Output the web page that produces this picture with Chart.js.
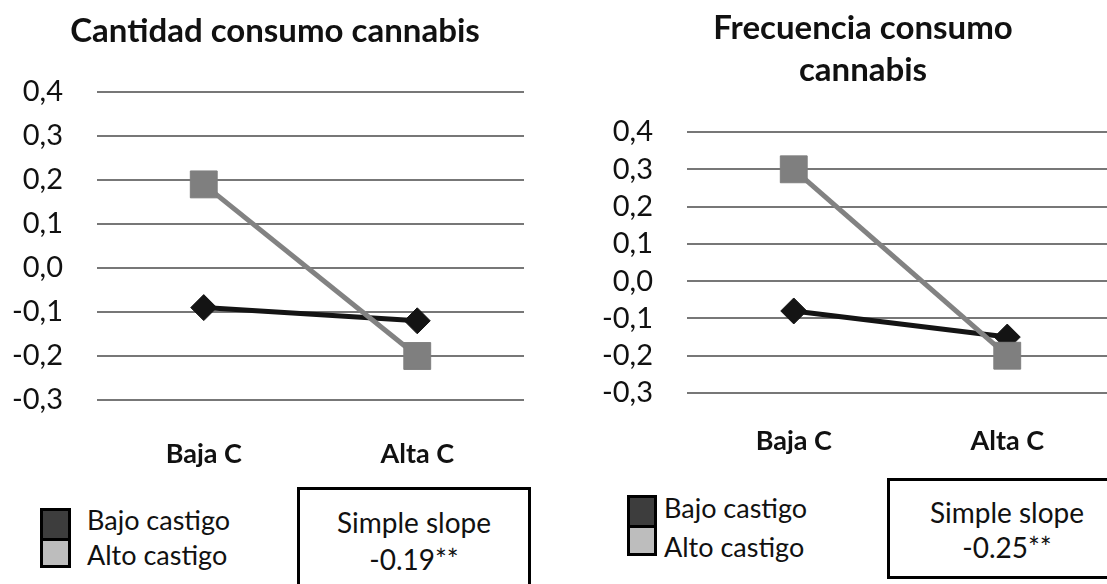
<!DOCTYPE html>
<html>
<head>
<meta charset="utf-8">
<script src="https://cdn.jsdelivr.net/npm/chart.js@4.4.1/dist/chart.umd.min.js"></script>
<style>
  html, body { margin: 0; padding: 0; background: #fff; }
  body { width: 1107px; height: 584px; overflow: hidden; position: relative; font-family: Lato, sans-serif; color: #111; }
  canvas { position: absolute; top: 0; }
  #c-left { left: 0; }
  #c-right { left: 560px; }
  .legend { position: absolute; }
  .swatch { position: absolute; left: 0; top: 0; border: 3px solid #000; box-sizing: border-box; }
  .swatch .dark { background: #3d3d3d; border-bottom: 3px solid #000; box-sizing: border-box; }
  .swatch .light { background: #bdbdbd; }
  .legend .txt { position: absolute; font-size: 27px; white-space: nowrap; }
  .slope { position: absolute; border: 3px solid #000; box-sizing: border-box; background: #fff;
           text-align: center; font-size: 28px; white-space: nowrap; }
</style>
</head>
<body>
<canvas id="c-left" width="550" height="480"></canvas>
<canvas id="c-right" width="606" height="480"></canvas>

<div class="legend" style="left:40px; top:508px;">
  <div class="swatch" style="width:31px; height:60px;">
    <div class="dark" style="height:30px;"></div><div class="light" style="height:24px;"></div>
  </div>
  <div class="txt" style="left:47px; top:-6px; line-height:35px;">Bajo castigo<br>Alto castigo</div>
</div>
<div class="slope" style="left:297px; top:487px; width:234px; height:120px; line-height:37px; padding-top:14px;">
  Simple slope<br>-0.19**
</div>

<div class="legend" style="left:627px; top:495px;">
  <div class="swatch" style="width:30px; height:61px;">
    <div class="dark" style="height:30px;"></div><div class="light" style="height:25px;"></div>
  </div>
  <div class="txt" style="left:37px; top:-7px; line-height:39px;">Bajo castigo<br>Alto castigo</div>
</div>
<div class="slope" style="left:887px; top:478px; width:240px; height:101px; line-height:35px; padding-top:14px;">
  Simple slope<br>-0.25**
</div>

<script>
const categories = ['Baja C', 'Alta C'];
const seriesNames = ['Bajo castigo', 'Alto castigo'];

// Cantidad consumo cannabis
const cantidadBajo = [-0.09, -0.12];
const cantidadAlto = [0.19, -0.20];

// Frecuencia consumo cannabis
const frecuenciaBajo = [-0.08, -0.15];
const frecuenciaAlto = [0.30, -0.20];

const yMin = -0.3, yMax = 0.4, yStep = 0.1;

function fmt(v) {
  if (Math.abs(v) < 1e-9) return '0,0';
  return v.toFixed(1).replace('.', ',');
}

function makeChart(id, title, bajo, alto, o) {
  new Chart(document.getElementById(id), {
    type: 'line',
    data: {
      labels: categories,
      datasets: [{
        label: seriesNames[0],
        data: bajo,
        order: 1,
        borderColor: '#141414',
        borderWidth: 5,
        pointStyle: 'rectRot',
        pointRadius: 13,
        pointBackgroundColor: '#141414',
        pointBorderColor: '#141414',
        pointBorderWidth: 1,
      }, {
        label: seriesNames[1],
        data: alto,
        order: 0,
        borderColor: '#828282',
        borderWidth: 5,
        pointStyle: 'rect',
        pointRadius: 19,
        pointBackgroundColor: '#7f7f7f',
        pointBorderColor: '#7f7f7f',
        pointBorderWidth: 1,
      }],
    },
    options: {
      responsive: false,
      animation: false,
      clip: false,
      layout: { padding: 0 },
      plugins: {
        legend: { display: false },
        tooltip: { enabled: false },
        title: {
          display: true,
          text: title,
          color: '#111',
          font: { family: 'Lato', size: 33, weight: 'bold', lineHeight: o.titleLH },
          padding: { top: o.titleTop, bottom: o.titleBottom },
        },
      },
      scales: {
        x: {
          offset: true,
          grid: { display: false, drawTicks: false },
          border: { display: false },
          ticks: { color: '#111', padding: o.xPad, font: { family: 'Lato', size: 27, weight: 'bold' } },
          afterFit: s => { s.height = o.xHeight; },
        },
        y: {
          min: yMin,
          max: yMax,
          grid: { color: '#777', lineWidth: 2, drawTicks: false },
          border: { display: false },
          ticks: {
            stepSize: yStep,
            autoSkip: false,
            padding: 34,
            color: '#111',
            font: { family: 'Lato', size: 29 },
            callback: v => fmt(v),
          },
          afterFit: s => { s.width = o.yWidth; },
        },
        // empty right-hand spacer so the title stays centred on the whole figure
        yr: {
          position: 'right',
          min: yMin,
          max: yMax,
          grid: { display: false, drawTicks: false },
          border: { display: false },
          ticks: { display: false },
          afterFit: s => { s.width = o.rightWidth; },
        },
      },
    },
  });
}

makeChart('c-left', 'Cantidad consumo cannabis', cantidadBajo, cantidadAlto,
  { rightWidth: 26, titleTop: 12, titleBottom: 40.4, titleLH: 1.2, xPad: 38, xHeight: 80, yWidth: 97 });
makeChart('c-right', ['Frecuencia consumo', 'cannabis'], frecuenciaBajo, frecuenciaAlto,
  { rightWidth: 52, titleTop: 7, titleBottom: 41, titleLH: 1.273, xPad: 32, xHeight: 87, yWidth: 127 });
</script>
</body>
</html>
